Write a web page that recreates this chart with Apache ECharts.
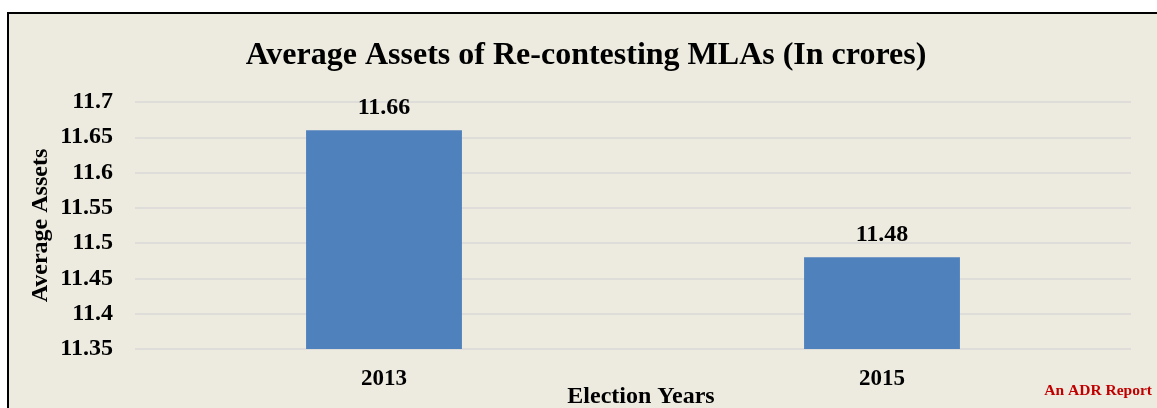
<!DOCTYPE html>
<html><head><meta charset="utf-8">
<script src="https://cdn.jsdelivr.net/npm/echarts@6/dist/echarts.min.js"></script>
<style>
html,body{margin:0;padding:0;background:#fff;width:1157px;height:408px;overflow:hidden;}
#box{position:absolute;left:7px;top:12px;width:1200px;height:420px;background:#EDEBE0;border-left:2px solid #000;border-top:2px solid #000;}
#chart{position:absolute;left:0;top:0;width:1157px;height:408px;}
</style></head>
<body>
<div id="box"></div>
<div id="chart"></div>
<script>
var categories = ['2013', '2015'];
var assets = [11.66, 11.48];
var yTicks = [11.35, 11.4, 11.45, 11.5, 11.55, 11.6, 11.65, 11.7];

var font = '"Liberation Serif", "Times New Roman", serif';
var chart = echarts.init(document.getElementById('chart'));
chart.setOption({
  backgroundColor: 'transparent',
  animation: false,
  title: {
    text: 'Average Assets of Re-contesting MLAs (In crores)',
    left: 581, top: 35, textAlign: 'center',
    textStyle: {fontFamily: font, fontWeight: 'bold', fontSize: 32, color: '#000'}
  },
  grid: {left: 135, right: 26, top: 102, bottom: 59, outerBoundsMode: 'none', containLabel: false},
  xAxis: {
    type: 'category', data: categories,
    axisLine: {show: false}, axisTick: {show: false},
    axisLabel: {fontFamily: font, fontWeight: 'bold', fontSize: 23, color: '#000', margin: 19},
    name: 'Election Years', nameLocation: 'middle', nameGap: 36, nameMoveOverlap: false,
    nameTextStyle: {fontFamily: font, fontWeight: 'bold', fontSize: 24, color: '#000', padding: [0, 0, 0, 16]}
  },
  yAxis: {
    type: 'value', min: 11.35, max: 11.7, interval: 0.05,
    axisLine: {show: false}, axisTick: {show: false},
    axisLabel: {fontFamily: font, fontWeight: 'bold', fontSize: 24, color: '#000', margin: 22,
      formatter: function (v) { var r = Math.round(v * 100) / 100; return yTicks.indexOf(r) >= 0 ? String(r) : ''; }},
    splitLine: {lineStyle: {color: '#D9D9D9', width: 1.5}},
    name: 'Average Assets', nameLocation: 'middle', nameGap: 82, nameRotate: 90, nameMoveOverlap: false,
    nameTextStyle: {fontFamily: font, fontWeight: 'bold', fontSize: 24, color: '#000'}
  },
  series: [{
    type: 'bar', data: assets, barWidth: '31.3%',
    itemStyle: {color: '#4F81BD'},
    label: {show: true, position: 'top', distance: 10, fontFamily: font, fontWeight: 'bold', fontSize: 24, color: '#000',
      formatter: function (p) { return p.value.toFixed(2); }}
  }],
  graphic: [{
    type: 'text', right: 5, top: 383,
    style: {text: 'An ADR Report', fill: '#C00000', font: 'bold 15.5px ' + font}
  }]
});
</script>
</body></html>
